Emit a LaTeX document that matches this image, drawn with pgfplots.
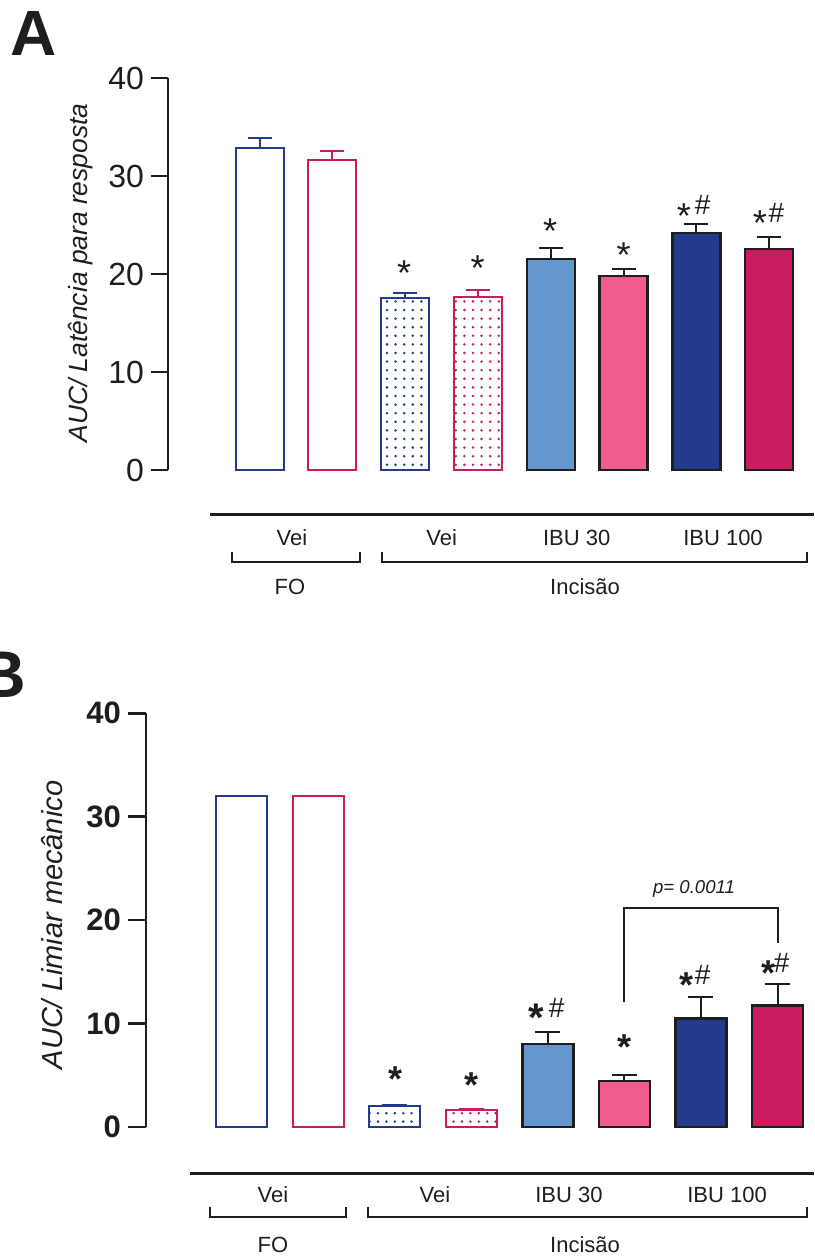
\documentclass[border=0pt]{standalone}
\usepackage{pgfplots}
\pgfplotsset{compat=1.18}
\usetikzlibrary{patterns.meta}
\usepackage{fontspec}
\setmainfont{Liberation Sans}
\definecolor{blueD}{RGB}{34,59,143}
\definecolor{magD}{RGB}{202,29,96}
\definecolor{blueL}{RGB}{99,151,206}
\definecolor{pinkL}{RGB}{240,92,144}
\definecolor{ink}{RGB}{30,30,30}
\pgfplotsset{
  onebar/.style={ybar, bar width=#1, bar shift=0pt},
  errb/.style 2 args={error bars/y dir=plus, error bars/y explicit,
     error bars/error bar style={line width=1pt, draw=#1},
     error bars/error mark options={rotate=90, mark size=#2, line width=1pt, draw=#1}},
}
\newcommand{\fs}[1]{\fontsize{#1}{#1}\selectfont}
\begin{document}
\begin{tikzpicture}
\useasboundingbox (0,0) rectangle (407pt,-628pt);

% ---------------- Panel A ----------------
\begin{axis}[
 at={(84pt,-235pt)}, anchor=south west,
 scale only axis, width=323pt, height=195.85pt,
 xmin=-1.257, xmax=7.616, ymin=0, ymax=40,
 axis x line=none, axis y line=left,
 y axis line style={-, line width=1pt, color=ink},
 ytick={0,10,20,30,40},
 tick align=outside, ytick pos=left,
 major tick length=8.5pt,
 tick style={line width=1pt, color=ink},
 yticklabel style={font=\fs{16pt}, color=ink},
 /pgf/number format/assume math mode=true,
 clip=false,
]
\addplot[onebar=24pt, draw=blueD, fill=white, line width=1pt, errb={blueD}{6pt}] coordinates {(0,32.92) +- (0,1.02)};
\addplot[onebar=24pt, draw=magD, fill=white, line width=1pt, errb={magD}{6pt}] coordinates {(1,31.66) +- (0,0.92)};
\addplot[onebar=24pt, draw=blueD, pattern={Dots[distance=4.3pt,radius=0.7pt]}, pattern color=blueD, line width=1pt, errb={blueD}{6pt}] coordinates {(2,17.54) +- (0,0.57)};
\addplot[onebar=24pt, draw=magD, pattern={Dots[distance=4.3pt,radius=0.7pt]}, pattern color=magD, line width=1pt, errb={magD}{6pt}] coordinates {(3,17.70) +- (0,0.66)};
\addplot[onebar=24pt, draw=ink, fill=blueL, line width=1.2pt, errb={ink}{6pt}] coordinates {(4,21.52) +- (0,1.13)};
\addplot[onebar=24pt, draw=ink, fill=pinkL, line width=1.2pt, errb={ink}{6pt}] coordinates {(5,19.82) +- (0,0.68)};
\addplot[onebar=24pt, draw=ink, fill=blueD, line width=1.2pt, errb={ink}{6pt}] coordinates {(6,24.18) +- (0,0.95)};
\addplot[onebar=24pt, draw=ink, fill=magD, line width=1.2pt, errb={ink}{6pt}] coordinates {(7,22.57) +- (0,1.25)};
% annotations
\begin{scope}[every node/.style={anchor=north, inner sep=0pt, text=ink}]
\node[font=\fs{18pt}] at (axis cs:1.985,21.45) {*};
\node[font=\fs{18pt}] at (axis cs:2.997,21.89) {*};
\node[font=\fs{18pt}] at (axis cs:3.99,25.71) {*};
\node[font=\fs{18pt}] at (axis cs:5.0,23.22) {*};
\node[font=\fs{18pt}] at (axis cs:5.83,27.24) {*};
\node[font=\fs{14pt}, anchor=south] at (axis cs:6.087,26.05) {\#};
\node[font=\fs{18pt}] at (axis cs:6.874,26.49) {*};
\node[font=\fs{14pt}, anchor=south] at (axis cs:7.10,25.26) {\#};
\end{scope}
\end{axis}

% ---------------- Panel B ----------------
\begin{axis}[
 at={(73pt,-563.35pt)}, anchor=south west,
 scale only axis, width=334pt, height=206.7pt,
 xmin=-1.250, xmax=7.477, ymin=0, ymax=40,
 axis x line=none, axis y line=left,
 y axis line style={-, line width=1.2pt, color=ink},
 ytick={0,10,20,30,40},
 tick align=outside, ytick pos=left,
 major tick length=9pt,
 tick style={line width=1.2pt, color=ink},
 yticklabel style={font=\bfseries\fs{15.5pt}, color=ink},
 /pgf/number format/assume math mode=true,
 clip=false,
]
\addplot[onebar=25.5pt, draw=blueD, fill=white, line width=1pt] coordinates {(0,32.0)};
\addplot[onebar=25.5pt, draw=magD, fill=white, line width=1pt] coordinates {(1,32.0)};
\addplot[onebar=25.5pt, draw=blueD, pattern={Dots[distance=4.2pt,radius=0.7pt]}, pattern color=blueD, line width=1pt, errb={blueD}{6.25pt}] coordinates {(2,2.0) +- (0,0.12)};
\addplot[onebar=25.5pt, draw=magD, pattern={Dots[distance=4.2pt,radius=0.7pt]}, pattern color=magD, line width=1pt, errb={magD}{6.25pt}] coordinates {(3,1.59) +- (0,0.12)};
\addplot[onebar=25.5pt, draw=ink, fill=blueL, line width=1.2pt, errb={ink}{6.25pt}] coordinates {(4,8.03) +- (0,1.16)};
\addplot[onebar=25.5pt, draw=ink, fill=pinkL, line width=1.2pt, errb={ink}{6.25pt}] coordinates {(5,4.45) +- (0,0.52)};
\addplot[onebar=25.5pt, draw=ink, fill=blueD, line width=1.2pt, errb={ink}{6.25pt}] coordinates {(6,10.49) +- (0,2.09)};
\addplot[onebar=25.5pt, draw=ink, fill=magD, line width=1.2pt, errb={ink}{6.25pt}] coordinates {(7,11.71) +- (0,2.10)};
\begin{scope}[every node/.style={anchor=north, inner sep=0pt, text=ink}]
\node[font=\bfseries\fs{18pt}] at (axis cs:2.01,5.87) {*};
\node[font=\bfseries\fs{18pt}] at (axis cs:3.0,5.22) {*};
\node[font=\bfseries\fs{20pt}] at (axis cs:3.854,11.87) {*};
\node[font=\fs{14pt}, anchor=south] at (axis cs:4.116,10.49) {\#};
\node[font=\bfseries\fs{18pt}] at (axis cs:4.995,8.97) {*};
\node[font=\bfseries\fs{18pt}] at (axis cs:5.805,14.90) {*};
\node[font=\fs{14pt}, anchor=south] at (axis cs:6.023,13.71) {\#};
\node[font=\bfseries\fs{18pt}] at (axis cs:6.88,16.13) {*};
\node[font=\fs{14pt}, anchor=south] at (axis cs:7.055,14.90) {\#};
\end{scope}
\draw[line width=1pt, ink] (axis cs:4.995,12.09) -- (axis cs:4.995,21.19) -- (axis cs:7.0,21.19) -- (axis cs:7.0,17.75);
\node[font=\itshape\fs{9.3pt}, text=ink] at (axis cs:5.91,23.0) {p= 0.0011};
\end{axis}

% ---------------- Decorations (pixel coordinates) ----------------
\begin{scope}[x=0.5pt,y=-0.5pt, text=ink]
\node[font=\bfseries\fs{32pt}] at (34,33) {A};
\node[font=\bfseries\fs{33pt}] at (2.5,675) {B};
\node[rotate=90, font=\itshape\fs{13.2pt}] at (80.7,273) {AUC/ Latência para resposta};
\node[rotate=90, font=\itshape\fs{14.5pt}] at (52,925) {AUC/ Limiar mecânico};
% panel A categories
\draw[line width=1.5pt, ink] (210,514) -- (814,514);
\draw[line width=1pt, ink] (232,551.7) -- (232,561.7) -- (360,561.7) -- (360,551.7);
\draw[line width=1pt, ink] (381.7,551.7) -- (381.7,561.7) -- (807,561.7) -- (807,551.7);
\begin{scope}[every node/.style={font=\fs{11pt}}]
\node at (292,538) {Vei};
\node at (441.7,538) {Vei};
\node at (576.7,538) {IBU 30};
\node at (723,538) {IBU 100};
\node at (290,586.7) {FO};
\node at (585,586.7) {Incisão};
\end{scope}
% panel B categories
\draw[line width=1.5pt, ink] (190,1173.3) -- (814,1173.3);
\draw[line width=1pt, ink] (210,1206.7) -- (210,1216.7) -- (346,1216.7) -- (346,1206.7);
\draw[line width=1pt, ink] (368,1206.7) -- (368,1216.7) -- (807,1216.7) -- (807,1206.7);
\begin{scope}[every node/.style={font=\fs{11pt}}]
\node at (273,1195) {Vei};
\node at (435,1195) {Vei};
\node at (569,1195) {IBU 30};
\node at (727,1195) {IBU 100};
\node at (273,1245) {FO};
\node at (585,1245) {Incisão};
\end{scope}
\end{scope}
\end{tikzpicture}
\end{document}
